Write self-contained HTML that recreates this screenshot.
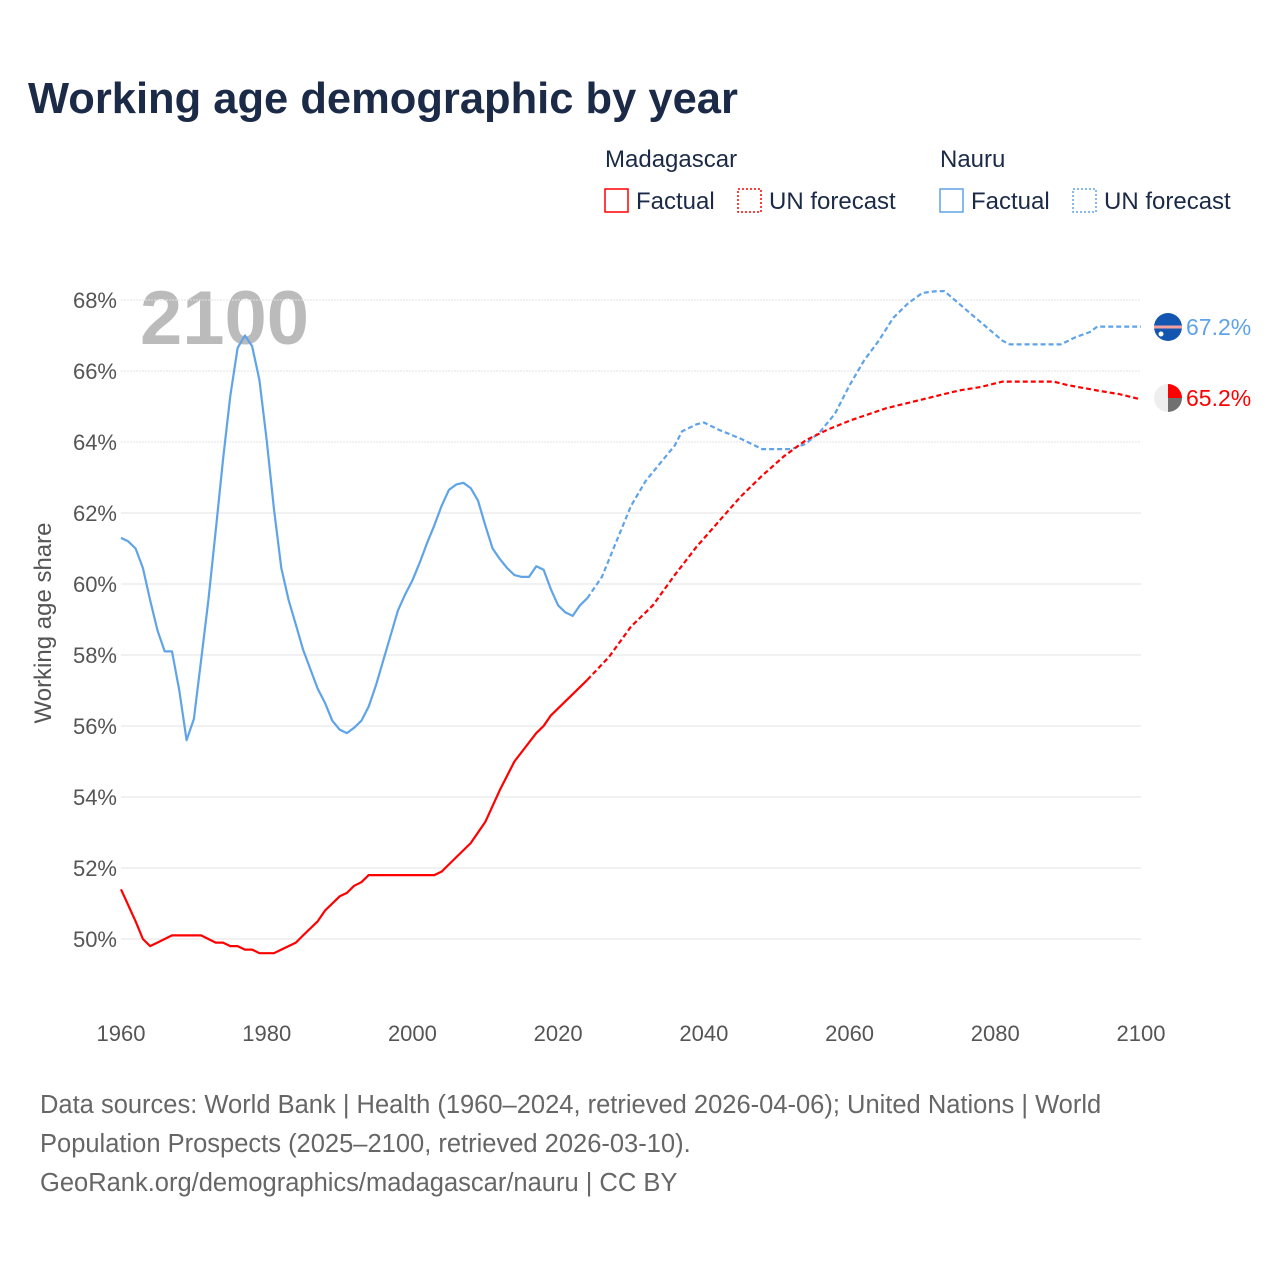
<!DOCTYPE html>
<html><head><meta charset="utf-8"><style>
body{margin:0;background:#fff;width:1280px;height:1280px;overflow:hidden;font-family:"Liberation Sans",sans-serif}
</style></head><body>
<svg id="chart" width="1280" height="1280" viewBox="0 0 1280 1280" xmlns="http://www.w3.org/2000/svg" font-family="Liberation Sans, sans-serif">
<text x="28" y="113" font-size="43.5" font-weight="bold" fill="#1b2a47">Working age demographic by year</text>
<g font-size="24" fill="#1b2a47">
<text x="605" y="167">Madagascar</text>
<text x="940" y="167">Nauru</text>
<g><rect x="605" y="189" width="23" height="23" fill="none" stroke="#f00" stroke-width="1.5"/><text x="636" y="209">Factual</text></g>
<g><rect x="738" y="189" width="23" height="23" fill="none" stroke="#f00" stroke-width="1.5" stroke-dasharray="2 2"/><text x="769" y="209">UN forecast</text></g>
<g><rect x="940" y="189" width="23" height="23" fill="none" stroke="#5fa3e8" stroke-width="1.5"/><text x="971" y="209">Factual</text></g>
<g><rect x="1073" y="189" width="23" height="23" fill="none" stroke="#5fa3e8" stroke-width="1.5" stroke-dasharray="2 2"/><text x="1104" y="209">UN forecast</text></g>
</g>
<text x="140" y="344" font-size="76" font-weight="bold" fill="#bbbbbb">2100</text>
<g id="grid"></g>
<g id="yticks" font-size="22" fill="#555" text-anchor="end"></g>
<g id="xticks" font-size="22" fill="#555" text-anchor="middle"></g>
<text transform="translate(51,623) rotate(-90)" font-size="24" fill="#555" text-anchor="middle">Working age share</text>
<g id="series"></g>
<g>
<circle cx="1168" cy="327" r="14" fill="#1256b0"/><rect x="1154" y="325.5" width="28" height="3" fill="#f4a0a0"/><circle cx="1161" cy="334" r="2.5" fill="#fff"/>
<text x="1186" y="335" font-size="23" fill="#5fa3e8">67.2%</text></g>
<g>
<circle cx="1168" cy="398" r="14" fill="#eeeeee"/><path d="M1168 384 A14 14 0 0 1 1182 398 L1168 398 Z" fill="#f00"/><path d="M1168 398 L1182 398 A14 14 0 0 1 1168 412 Z" fill="#707070"/>
<text x="1186" y="406" font-size="23" fill="#f00">65.2%</text></g>
<g font-size="25.5" fill="#666">
<text x="40" y="1113">Data sources: World Bank | Health (1960–2024, retrieved 2026-04-06); United Nations | World</text>
<text x="40" y="1152">Population Prospects (2025–2100, retrieved 2026-03-10).</text>
<text x="40" y="1191">GeoRank.org/demographics/madagascar/nauru | CC BY</text>
</g>
</svg>
<script>
const yTicks=[50,52,54,56,58,60,62,64,66,68];
const xTicks=[1960,1980,2000,2020,2040,2060,2080,2100];
const nauruFactYears=[1960,1961,1962,1963,1964,1965,1966,1967,1968,1969,1970,1971,1972,1973,1974,1975,1976,1977,1978,1979,1980,1981,1982,1983,1984,1985,1986,1987,1988,1989,1990,1991,1992,1993,1994,1995,1996,1997,1998,1999,2000,2001,2002,2003,2004,2005,2006,2007,2008,2009,2010,2011,2012,2013,2014,2015,2016,2017,2018,2019,2020,2021,2022,2023,2024];
const nauruFactValues=[61.3,61.2,61.0,60.45,59.55,58.7,58.1,58.1,57.0,55.6,56.2,57.85,59.55,61.5,63.5,65.3,66.65,67.0,66.7,65.75,64.05,62.1,60.45,59.55,58.85,58.15,57.6,57.05,56.65,56.15,55.9,55.8,55.95,56.15,56.55,57.15,57.85,58.55,59.25,59.7,60.1,60.6,61.15,61.65,62.2,62.65,62.8,62.85,62.7,62.35,61.65,61.0,60.7,60.45,60.25,60.2,60.2,60.5,60.4,59.85,59.4,59.2,59.1,59.4,59.6];
const nauruFcYears=[2024,2026,2028,2030,2032,2034,2036,2037,2039,2040,2042,2045,2048,2052,2054,2056,2058,2060,2062,2064,2066,2068,2070,2072,2073,2075,2077,2079,2081,2082,2089,2091,2093,2094,2100];
const nauruFcValues=[59.6,60.2,61.2,62.2,62.9,63.4,63.9,64.3,64.5,64.55,64.35,64.1,63.8,63.8,63.95,64.3,64.8,65.6,66.3,66.85,67.5,67.9,68.2,68.25,68.25,67.9,67.55,67.2,66.85,66.75,66.75,66.95,67.1,67.25,67.25];
const madFactYears=[1960,1962,1963,1964,1965,1967,1971,1973,1974,1975,1976,1977,1978,1979,1981,1982,1984,1985,1987,1988,1990,1991,1992,1993,1994,2003,2004,2006,2008,2010,2012,2014,2017,2018,2019,2024];
const madFactValues=[51.4,50.5,50.0,49.8,49.9,50.1,50.1,49.9,49.9,49.8,49.8,49.7,49.7,49.6,49.6,49.7,49.9,50.1,50.5,50.8,51.2,51.3,51.5,51.6,51.8,51.8,51.9,52.3,52.7,53.3,54.2,55.0,55.8,56.0,56.3,57.3];
const madFcYears=[2024,2027,2030,2033,2036,2039,2042,2045,2048,2051,2054,2057,2060,2065,2070,2075,2078,2081,2088,2090,2094,2097,2100];
const madFcValues=[57.3,57.95,58.8,59.4,60.25,61.05,61.75,62.45,63.05,63.6,64.05,64.35,64.6,64.95,65.2,65.45,65.55,65.7,65.7,65.6,65.45,65.35,65.2];
const x=y=>121+(y-1960)*(1020/140);
const yv=v=>939-(v-50)*(639/18);
const NS="http://www.w3.org/2000/svg";
const grid=document.getElementById('grid'),yt=document.getElementById('yticks'),xt=document.getElementById('xticks'),ser=document.getElementById('series');
yTicks.forEach(t=>{
 const l=document.createElementNS(NS,'line');
 l.setAttribute('x1',121);l.setAttribute('x2',1141);l.setAttribute('y1',yv(t));l.setAttribute('y2',yv(t));
 l.setAttribute('stroke','#e3e3e3');l.setAttribute('stroke-width','1');
 if(t>=64)l.setAttribute('stroke-dasharray','2 1');
 
 
 grid.appendChild(l);
 const tx=document.createElementNS(NS,'text');
 tx.setAttribute('x',117);tx.setAttribute('y',yv(t)+8);tx.textContent=t+'%';
 
 
 yt.appendChild(tx);
});
xTicks.forEach(t=>{
 const tx=document.createElementNS(NS,'text');
 tx.setAttribute('x',x(t));tx.setAttribute('y',1041);tx.textContent=t;
 
 
 xt.appendChild(tx);
});
function line(ys,vs,color,dash,name){
 const p=document.createElementNS(NS,'polyline');
 p.setAttribute('points',ys.map((y,i)=>x(y).toFixed(1)+','+yv(vs[i]).toFixed(1)).join(' '));
 p.setAttribute('fill','none');p.setAttribute('stroke',color);p.setAttribute('stroke-width','2.2');p.setAttribute('stroke-linejoin','round');
 if(dash)p.setAttribute('stroke-dasharray','5 3');
 
 
 ser.appendChild(p);
}
line(nauruFactYears,nauruFactValues,'#5fa3e8',false,'nauru-factual-line');
line(nauruFcYears,nauruFcValues,'#5fa3e8',true,'nauru-forecast-line');
line(madFactYears,madFactValues,'#ff0000',false,'madagascar-factual-line');
line(madFcYears,madFcValues,'#ff0000',true,'madagascar-forecast-line');
</script>
</body></html>
